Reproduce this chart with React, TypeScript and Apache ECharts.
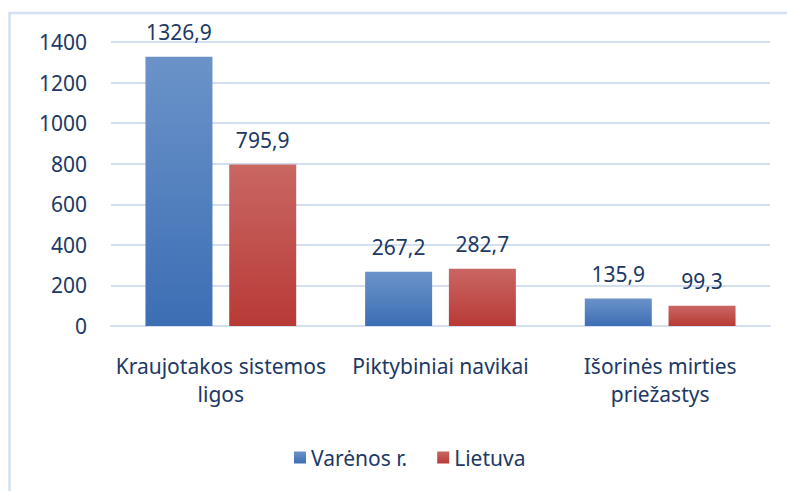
import React, { useEffect, useRef } from "react";
import * as echarts from "echarts";

const categories = ["Kraujotakos sistemos\nligos", "Piktybiniai navikai", "Išorinės mirties\npriežastys"];
const seriesNames = ["Varėnos r.", "Lietuva"];
const varenaValues = [1326.9, 267.2, 135.9];
const lietuvaValues = [795.9, 282.7, 99.3];
const yTicks = { min: 0, max: 1400, interval: 200 };

const textColor = "#203864";
const fontFamily = "'Noto Sans', sans-serif";

export default function App() {
  const ref = useRef<HTMLDivElement>(null);
  useEffect(() => {
    if (!ref.current) return;
    const chart = echarts.init(ref.current, undefined, { renderer: "svg" });
    const grad = (top: string, bottom: string) =>
      new echarts.graphic.LinearGradient(0, 0, 0, 1, [
        { offset: 0, color: top },
        { offset: 1, color: bottom },
      ]);
    const fmt = (p: any) => String(p.value).replace(".", ",");
    chart.setOption({
      animation: false,
      backgroundColor: "#ffffff",
      textStyle: { fontFamily },
      graphic: [
        {
          type: "rect",
          shape: { x: 9.5, y: 13, width: 800, height: 500 },
          style: { fill: "none", stroke: "#d3dff1", lineWidth: 2.5 },
          silent: true,
        },
      ],
      grid: { left: 111, right: 17, top: 42, bottom: 165 },
      legend: {
        bottom: 18,
        left: 289,
        icon: "rect",
        itemWidth: 12,
        itemHeight: 12,
        itemGap: 30,
        textStyle: { color: textColor, fontSize: 21, fontFamily },
        data: seriesNames,
      },
      xAxis: {
        type: "category",
        data: categories,
        axisLine: { lineStyle: { color: "#d3dff1", width: 2 } },
        axisTick: { show: false },
        axisLabel: { interval: 0, color: textColor, fontSize: 21, margin: 26, lineHeight: 28, fontFamily },
      },
      yAxis: {
        type: "value",
        min: yTicks.min,
        max: yTicks.max,
        interval: yTicks.interval,
        axisLine: { show: false },
        axisTick: { show: false },
        splitLine: { lineStyle: { color: "#d3dff1", width: 2 } },
        axisLabel: { color: textColor, fontSize: 21, margin: 24, fontFamily, formatter: (v: number) => String(v) },
      },
      series: [
        {
          name: seriesNames[0],
          type: "bar",
          data: varenaValues,
          barWidth: 67,
          barGap: "25%",
          itemStyle: { color: grad("#6b93c9", "#3c6eb4") },
          label: { show: true, position: "top", distance: 14, color: textColor, fontSize: 21, formatter: fmt, fontFamily },
        },
        {
          name: seriesNames[1],
          type: "bar",
          data: lietuvaValues,
          barWidth: 67,
          barGap: "25%",
          itemStyle: { color: grad("#c96763", "#b83a36") },
          label: { show: true, position: "top", distance: 14, color: textColor, fontSize: 21, formatter: fmt, fontFamily },
        },
      ],
    });
    return () => chart.dispose();
  }, []);
  return <div ref={ref} style={{ position: "fixed", left: 0, top: 0, width: 787, height: 491 }} />;
}
